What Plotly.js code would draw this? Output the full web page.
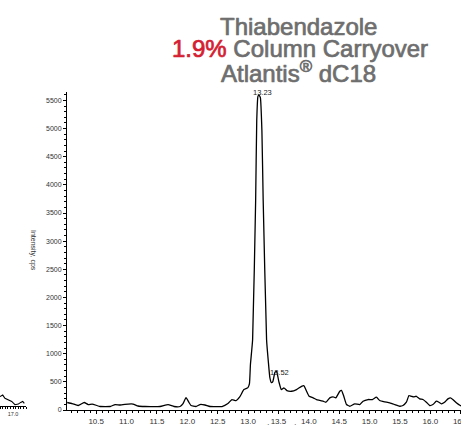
<!DOCTYPE html>
<html>
<head>
<meta charset="utf-8">
<script src="https://cdn.plot.ly/plotly-3.0.1.min.js"></script>
<style>html,body{margin:0;padding:0;background:#fff;}#chart{width:461px;height:425px;}</style>
</head>
<body>
<div id="chart"></div>
<script>
// Main chromatogram: retention time (min) and intensity (cps)
const timeMin = [10.023,10.106,10.204,10.303,10.369,10.434,10.566,10.730,10.812,10.894,11.026,11.108,11.190,11.305,11.552,11.683,11.782,11.880,11.930,11.979,12.028,12.061,12.143,12.209,12.291,12.373,12.571,12.669,12.735,12.801,12.866,12.932,12.998,13.023,13.039,13.075,13.125,13.143,13.162,13.179,13.203,13.228,13.249,13.305,13.334,13.359,13.384,13.408,13.441,13.469,13.507,13.548,13.590,13.639,13.716,13.798,13.880,13.918,13.963,14.005,14.071,14.127,14.181,14.235,14.280,14.345,14.400,14.444,14.510,14.538,14.576,14.620,14.674,14.756,14.839,14.893,14.975,15.047,15.113,15.167,15.249,15.332,15.414,15.496,15.550,15.606,15.649,15.688,15.726,15.770,15.825,15.879,15.935,15.989,16.043,16.099,16.142,16.181,16.235,16.290,16.334,16.383,16.428,16.493,16.550];
const intensity = [133,115,80,133,97,106,62,62,97,89,106,106,71,62,62,97,62,62,115,221,133,80,62,97,89,62,62,115,186,168,239,363,398,469,805,1248,3726,5142,5567,5600,5549,4965,3726,1248,858,575,487,504,664,690,504,363,393,345,333,363,421,434,333,244,216,186,173,156,138,216,234,216,333,350,244,97,67,110,97,156,186,186,227,168,145,127,97,67,80,138,257,244,234,244,198,186,138,80,97,156,138,110,138,198,216,173,127,80,62];

// Peak labels
const peakTimes = [13.23, 13.52];
const peakValues = [5600, 690];
const peakLabels = ["13.23", "13.52"];

// Fragment of the neighbouring chart at the left edge
const fragTime = [16.900,16.921,16.938,16.964,16.990,17.015,17.041,17.059,17.075,17.087];
const fragIntensity = [157,183,130,102,76,21,32,60,76,44];
const fragTickVals = [17.0];
const fragTickText = ["17.0"];

// Title lines
const titleLine1 = "Thiabendazole";
const titleLine2 = '<span style="color:#d42030">1.9%</span> Column Carryover';
const titleLine3 = "Atlantis<sup>®</sup> dC18";
const yTitle = "Intensity, cps";
const xTitle = "Time, min";

const W = 461, H = 425, T = 92, B = 15;
const plotH = H - T - B;
const px2x = p => p / W;
const px2y = p => (H - B - p) / plotH;

const FONT = "Liberation Sans, Arial, Helvetica, sans-serif";
const GRAY = "#6e6e6e";

const traces = [
  {x: timeMin, y: intensity, type: "scatter", mode: "lines",
   line: {color: "#000", width: 1.3, shape: "spline", smoothing: 0.4},
   xaxis: "x", yaxis: "y", hoverinfo: "skip"},
  {x: fragTime, y: fragIntensity, type: "scatter", mode: "lines",
   line: {color: "#000", width: 1.1},
   xaxis: "x2", yaxis: "y2", hoverinfo: "skip"}
];

const annotations = [
  {text: titleLine1, x: px2x(298), y: px2y(26), xref: "paper", yref: "paper", showarrow: false,
   xanchor: "center", yanchor: "middle", font: {family: FONT, size: 24, color: GRAY}, name: "title"},
  {text: titleLine2, x: px2x(300), y: px2y(49), xref: "paper", yref: "paper", showarrow: false,
   xanchor: "center", yanchor: "middle", font: {family: FONT, size: 24, color: GRAY}, name: "title"},
  {text: titleLine3, x: px2x(298), y: px2y(72), xref: "paper", yref: "paper", showarrow: false,
   xanchor: "center", yanchor: "middle", font: {family: FONT, size: 24, color: GRAY}, name: "title"},
  {text: yTitle, x: px2x(33), y: px2y(250), xref: "paper", yref: "paper", showarrow: false,
   textangle: 90, xanchor: "center", yanchor: "middle", font: {family: FONT, size: 7, color: "#333"}},
  {text: xTitle, x: px2x(281), y: px2y(421), xref: "paper", yref: "paper", showarrow: false,
   xanchor: "center", yanchor: "top", font: {family: FONT, size: 9, color: "#333"}},
  {text: peakLabels[0], x: peakTimes[0], y: peakValues[0], xref: "x", yref: "y", showarrow: false,
   xanchor: "center", yanchor: "middle", yshift: 2, font: {family: FONT, size: 7.5, color: "#222"}},
  {text: peakLabels[1], x: peakTimes[1], y: peakValues[1], xref: "x", yref: "y", showarrow: false,
   xanchor: "center", yanchor: "middle", yshift: -1, font: {family: FONT, size: 7.5, color: "#222"}}
];

const layout = {
  width: W, height: H,
  margin: {l: 0, r: 0, t: T, b: B, pad: 0},
  paper_bgcolor: "#fff", plot_bgcolor: "rgba(0,0,0,0)",
  showlegend: false,
  font: {family: FONT, color: "#333"},
  xaxis: {
    domain: [67 / W, 1], range: [10.02, 16.505], anchor: "y",
    tick0: 0, dtick: 0.5, tickformat: ".1f",
    ticks: "outside", ticklen: 3, tickwidth: 1, tickcolor: "#000",
    minor: {dtick: 0.1, tick0: 0, ticks: "outside", ticklen: 2, tickwidth: 1, tickcolor: "#000", showgrid: false},
    showline: true, linecolor: "#000", linewidth: 1,
    showgrid: false, zeroline: false,
    tickfont: {family: FONT, size: 8, color: "#333"},
    ticklabeloverflow: "allow", fixedrange: true
  },
  yaxis: {
    range: [0, 5650], anchor: "x",
    tick0: 0, dtick: 500,
    ticks: "outside", ticklen: 3, tickwidth: 1, tickcolor: "#000",
    minor: {dtick: 100, tick0: 0, ticks: "outside", ticklen: 2, tickwidth: 1, tickcolor: "#000", showgrid: false},
    showline: true, linecolor: "#000", linewidth: 1,
    showgrid: false, zeroline: false,
    tickfont: {family: FONT, size: 7, color: "#333"},
    ticklabeloverflow: "allow", fixedrange: true
  },
  xaxis2: {
    domain: [0, 26 / W], range: [16.9, 17.1], anchor: "y2",
    tickvals: fragTickVals, ticktext: fragTickText,
    ticks: "outside", ticklen: 2, tickwidth: 1, tickcolor: "#000",
    minor: {dtick: 0.02, ticks: "outside", ticklen: 1.5, tickwidth: 1, tickcolor: "#000", showgrid: false},
    showline: true, linecolor: "#000", linewidth: 1,
    showgrid: false, zeroline: false,
    tickfont: {family: FONT, size: 5.5, color: "#333"},
    ticklabeloverflow: "allow", fixedrange: true
  },
  yaxis2: {
    domain: [4 / plotH, 0.2], range: [0, 1000], anchor: "x2",
    visible: false, fixedrange: true
  },
  annotations: annotations
};

Plotly.newPlot("chart", traces, layout, {displayModeBar: false, staticPlot: true}).then(gd => {
  // Give the three title lines a slightly heavier (medium) weight
  const texts = gd.querySelectorAll(".annotation-text");
  for (let i = 0; i < 3 && i < texts.length; i++) {
    const t = texts[i];
    const setStroke = el => {
      const fill = window.getComputedStyle(el).fill;
      el.style.stroke = fill;
      el.style.strokeWidth = "0.7px";
      el.style.strokeLinejoin = "round";
    };
    setStroke(t);
    t.querySelectorAll("tspan").forEach(setStroke);
  }
});
</script>
</body>
</html>
